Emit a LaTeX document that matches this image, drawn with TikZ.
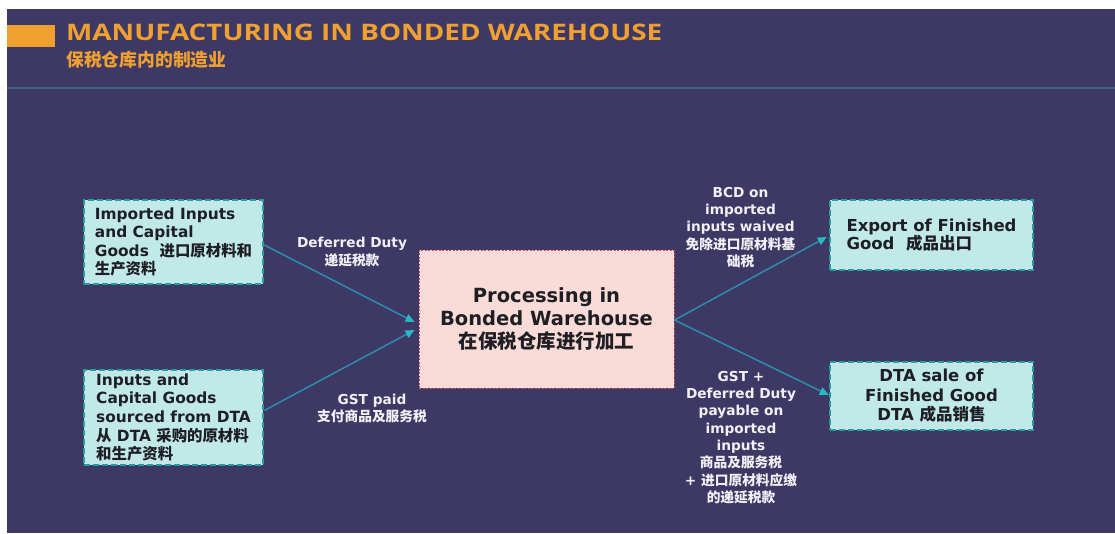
\documentclass[tikz,border=0pt]{standalone}
\usepackage{fontspec}
\setmainfont{DejaVu Sans}
\newfontfamily\cjkf{Noto Sans CJK SC}
\newfontfamily\ttlf{Open Sans}
\usetikzlibrary{arrows.meta,calc}
\newcommand{\zhx}[1]{{\cjkf\bfseries #1}}
\definecolor{bgc}{RGB}{61,57,100}
\definecolor{orng}{RGB}{240,160,48}
\definecolor{sepc}{RGB}{58,100,135}
\definecolor{boxfill}{RGB}{192,233,231}
\definecolor{boxdraw}{RGB}{38,158,160}
\definecolor{cfill}{RGB}{249,220,215}
\definecolor{cdraw}{RGB}{200,80,90}
\definecolor{arrc}{RGB}{45,140,172}
\definecolor{tipc}{RGB}{40,185,195}
\definecolor{darktxt}{RGB}{30,30,36}
\definecolor{lbltxt}{RGB}{240,240,246}
\tikzset{
  gbox/.style={draw=boxdraw, fill=boxfill, line width=2.5pt, dash pattern=on 6pt off 3pt,
    text=darktxt, font=\bfseries\fontsize{15.4}{18.6}\selectfont, align=left, inner sep=0pt},
  cbox/.style={draw=cdraw, fill=cfill, line width=1pt, dash pattern=on 2pt off 1.5pt,
    text=darktxt, font=\bfseries\fontsize{19.5}{23}\selectfont, align=center, inner sep=0pt,
    minimum width=255pt, minimum height=138pt},
  lbl/.style={text=lbltxt, font=\bfseries\fontsize{13.7}{17.3}\selectfont, align=center, inner sep=0pt},
  arr/.style={draw=arrc, line width=1.5pt, -{Triangle[length=9pt,width=8pt,fill=tipc,color=tipc]}},
}
\begin{document}
\begin{tikzpicture}[x=1pt,y=-1pt]
\fill[white] (0,0) rectangle (1115,533);
\fill[bgc] (7,9) rectangle (1115,533);
\useasboundingbox (0,0) rectangle (1115,533);
% header
\fill[orng] (7,25) rectangle (55,47);
\node[anchor=south west, inner sep=0pt, text=orng] (title) at (66,41)
  {\resizebox{596pt}{16.5pt}{\ttlf\bfseries MANUFACTURING IN BONDED WAREHOUSE}};
\node[anchor=west, inner sep=0pt, text=orng, font=\cjkf\bfseries\fontsize{17.8}{20}\selectfont] (subtitle) at (66,60) {保税仓库内的制造业};
\draw[sepc, line width=2pt] (7,88) -- (1115,88);
% boxes
\node[gbox, minimum width=179pt, minimum height=84pt] (A) at (173.5,242)
  {Imported Inputs\\and Capital\\Goods\ \ \zhx{进口原材料和}\\\zhx{生产资料}};
\node[gbox, minimum width=179pt, minimum height=95pt] (B) at (173.5,417.5)
  {Inputs and\\Capital Goods\\sourced from DTA\\\zhx{从} DTA \zhx{采购的原材料}\\\zhx{和生产资料}};
\node[cbox] (P) at (546.5,319)
  {Processing in\\Bonded Warehouse\\\zhx{在保税仓库进行加工}};
\node[gbox, font=\bfseries\fontsize{16.5}{18.5}\selectfont, minimum width=203pt, minimum height=70pt] (C) at (931.5,235)
  {Export of Finished\\Good\ \ \zhx{成品出口}};
\node[gbox, font=\bfseries\fontsize{16.5}{19.5}\selectfont, align=center, minimum width=203pt, minimum height=68pt] (D) at (931.5,396)
  {DTA sale of\\Finished Good\\DTA \zhx{成品销售}};
% connectors
\draw[arr] ($(A.east)+(0,3)$) -- ($(P.west)+(-4,3)$);
\draw[arr] ($(B.east)+(0,-7)$) -- ($(P.west)+(-4,11)$);
\draw[arr] ($(P.east)+(0,1)$) -- ($(C.west)+(-2,2)$);
\draw[arr] ($(P.east)+(0,1)$) -- ($(D.west)+(0,-1)$);
% labels
\node[lbl] (l1) at (352,252) {Deferred Duty\\\zhx{递延税款}};
\node[lbl] (l2) at (372,408.5) {GST paid\\\zhx{支付商品及服务税}};
\node[lbl] (l3) at (740.5,227.5) {BCD on\\imported\\inputs waived\\\zhx{免除进口原材料基}\\\zhx{础税}};
\node[lbl] (l4) at (741,437.5) {GST +\\Deferred Duty\\payable on\\imported\\inputs\\\zhx{商品及服务税}\\+ \zhx{进口原材料应缴}\\\zhx{的递延税款}};
\end{tikzpicture}
\end{document}
